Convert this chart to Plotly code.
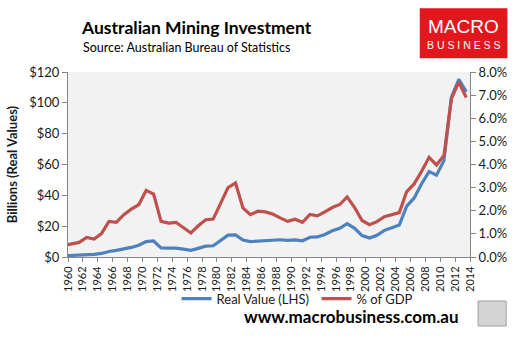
import plotly.graph_objects as go

# Financial years (year ending June), plotted mid-way through the preceding year
years = list(range(1960, 2015))
real_value = [0.8, 0.9, 1.2, 1.5, 1.7, 2.3, 3.6, 4.3, 5.0, 6.2,
              7.6, 10.0, 10.4, 5.9, 5.8, 5.8, 5.1, 4.3, 5.6, 7.0,
              7.3, 10.8, 14.2, 14.3, 11.0, 10.0, 10.4, 10.7, 11.2, 11.2,
              10.8, 11.1, 10.5, 12.8, 13.0, 14.6, 17.0, 18.6, 21.6, 18.6,
              13.9, 12.3, 14.1, 17.3, 18.9, 20.7, 33.0, 38.3, 47.5, 55.4,
              53.1, 62.5, 103.5, 115.3, 107.2]
pct_gdp = [0.50, 0.56, 0.63, 0.85, 0.78, 1.01, 1.54, 1.50, 1.83, 2.07,
           2.26, 2.88, 2.72, 1.54, 1.47, 1.50, 1.25, 1.04, 1.35, 1.61,
           1.64, 2.33, 3.00, 3.20, 2.12, 1.83, 1.98, 1.95, 1.86, 1.69,
           1.54, 1.63, 1.50, 1.84, 1.78, 1.95, 2.14, 2.27, 2.60, 2.14,
           1.58, 1.40, 1.53, 1.74, 1.83, 1.92, 2.83, 3.16, 3.71, 4.31,
           3.98, 4.39, 6.85, 7.56, 6.90]
tick_years = list(range(1960, 2015, 2))
left_ticks = list(range(0, 121, 20))
right_ticks = list(range(0, 9))

x = [y - 0.5 for y in years]

FONT = "Lato"
AXIS_COL = "#868686"
TXT = "#1a1a1a"

fig = go.Figure()
fig.add_trace(go.Scatter(x=x, y=real_value, name="Real Value (LHS)", mode="lines",
                         line=dict(color="#4F81BD", width=3.2), yaxis="y"))
fig.add_trace(go.Scatter(x=x, y=pct_gdp, name="% of GDP", mode="lines",
                         line=dict(color="#C0504D", width=3.2), yaxis="y2"))

fig.update_layout(
    width=519, height=340,
    margin=dict(l=63, r=47, t=72, b=83),
    paper_bgcolor="white", plot_bgcolor="#F2F2F2",
    font=dict(family=FONT, color=TXT, size=13),
    showlegend=True,
    legend=dict(orientation="h", x=0.27, xanchor="left", y=-0.225, yanchor="middle",
                font=dict(size=13, family=FONT), bgcolor="rgba(0,0,0,0)",
                itemwidth=30, tracegroupgap=0, entrywidth=95, entrywidthmode="pixels"),
    xaxis=dict(range=[1960, 2014], tickvals=tick_years, ticktext=[str(t) for t in tick_years],
               tickangle=-90, tickfont=dict(size=11), showgrid=False, zeroline=False,
               showline=True, linecolor=AXIS_COL, linewidth=1,
               ticks="outside", ticklen=4, tickcolor=AXIS_COL),
    yaxis=dict(range=[0, 120], tickvals=left_ticks,
               ticktext=["$" + str(v) for v in left_ticks],
               showgrid=False, zeroline=False, showline=True, linecolor=AXIS_COL,
               ticks="outside", ticklen=5, tickcolor=AXIS_COL, tickfont=dict(size=13),
               title=dict(text="<b>Billions (Real Values)</b>", font=dict(size=13), standoff=8)),
    yaxis2=dict(range=[0, 8], tickvals=right_ticks,
                ticktext=["%.1f%%" % v for v in right_ticks],
                overlaying="y", side="right", showgrid=False, zeroline=False,
                showline=True, linecolor=AXIS_COL, ticks="outside", ticklen=5,
                tickcolor=AXIS_COL, tickfont=dict(size=13)),
)

# Title and source
fig.add_annotation(text="<b>Australian Mining Investment</b>", xref="paper", yref="paper",
                   x=0.027, y=1.24, xanchor="left", yanchor="middle", showarrow=False,
                   font=dict(size=17.5, family=FONT, color="#000000"))
fig.add_annotation(text="Source: Australian Bureau of Statistics", xref="paper", yref="paper",
                   x=0.032, y=1.13, xanchor="left", yanchor="middle", showarrow=False,
                   font=dict(size=12.5, family=FONT, color="#000000"))

# MACRO BUSINESS logo
fig.add_shape(type="rect", xref="paper", yref="paper", x0=0.875, x1=1.093, y0=1.075, y1=1.345,
              fillcolor="#E3161D", line=dict(width=0), layer="above")
fig.add_annotation(text="MACRO", xref="paper", yref="paper", x=0.984, y=1.245,
                   xanchor="center", yanchor="middle", showarrow=False,
                   font=dict(size=19, family="Liberation Sans", color="white"))
fig.add_annotation(text="B U S I N E S S", xref="paper", yref="paper", x=0.984, y=1.145,
                   xanchor="center", yanchor="middle", showarrow=False,
                   font=dict(size=10.5, family="Liberation Sans", color="white"))

# Website footer
fig.add_annotation(text="<b>www.macrobusiness.com.au</b>", xref="paper", yref="paper",
                   x=0.978, y=-0.322, xanchor="right", yanchor="middle", showarrow=False,
                   font=dict(size=17, family=FONT, color="#000000"))
# wolf emblem placeholder
fig.add_shape(type="rect", xref="paper", yref="paper", x0=1.02, x1=1.09, y0=-0.373, y1=-0.238,
              fillcolor="#D4D4D4", line=dict(color="#A0A0A0", width=1))

fig.write_html("out.html")
